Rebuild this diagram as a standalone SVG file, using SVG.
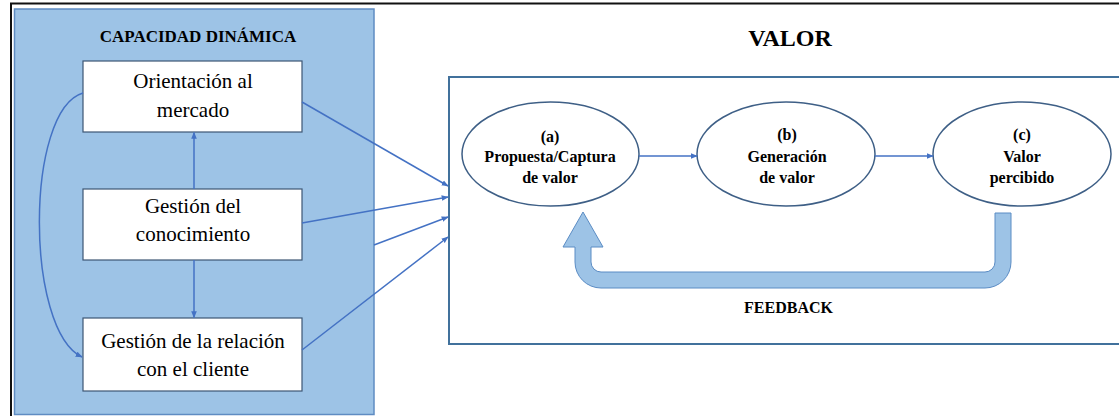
<svg xmlns="http://www.w3.org/2000/svg" width="1119" height="416" viewBox="0 0 1119 416" font-family="'Liberation Serif', 'DejaVu Serif', serif">
<defs>
<style>
.t{fill:#000;text-anchor:middle}
.box{fill:#fff;stroke:#3d5674;stroke-width:1.2}
.ell{fill:#fff;stroke:#3e5f86;stroke-width:1.5}
.ln{fill:none;stroke:#4472c4;stroke-width:1.5}
.bt{font-weight:bold;font-size:16px}
.bx{font-size:21px}
</style>
<marker id="ah" viewBox="0 0 10 10" refX="9" refY="5" markerWidth="7" markerHeight="7" orient="auto" markerUnits="userSpaceOnUse">
<path d="M0 1 L10 5 L0 9 Z" fill="#4472c4"/>
</marker>
</defs>
<rect width="1119" height="416" fill="#fff"/>
<path d="M11 416 L11 3.5 L1119 3.5" fill="none" stroke="#111" stroke-width="2"/>
<g id="panel-capacidad">
<rect x="14.5" y="9" width="359.5" height="405.5" fill="#9dc3e6" stroke="#5f8cc2" stroke-width="1.5"/>
<text class="t" x="198" y="42" font-size="17" font-weight="bold" fill="#111" font-family="Liberation Serif, serif">CAPACIDAD DINÁMICA</text>
</g>
<g id="panel-valor">
<path d="M1119 77 L449 77 L449 344 L1119 344" fill="none" stroke="#41719c" stroke-width="2"/>
<text class="t" x="790" y="46" font-size="24" font-weight="bold">VALOR</text>
</g>
<g id="node-orientacion">
<rect class="box" x="83" y="61" width="219" height="71"/>
<text class="t bx" x="193" y="88">Orientación al</text>
<text class="t bx" x="193" y="117">mercado</text>
</g>
<g id="node-gestion-conocimiento">
<rect class="box" x="83" y="189" width="219" height="71"/>
<text class="t bx" x="193" y="213">Gestión del</text>
<text class="t bx" x="193" y="241">conocimiento</text>
</g>
<g id="node-gestion-relacion">
<rect class="box" x="83" y="318" width="219" height="73"/>
<text class="t bx" x="193" y="348">Gestión de la relación</text>
<text class="t bx" x="193" y="376">con el cliente</text>
</g>
<g id="node-a">
<ellipse class="ell" cx="550.5" cy="154" rx="88.5" ry="52"/>
<text class="t bt" x="550" y="142">(a)</text>
<text class="t bt" x="550" y="162">Propuesta/Captura</text>
<text class="t bt" x="550" y="183">de valor</text>
</g>
<g id="node-b">
<ellipse class="ell" cx="786" cy="154" rx="89" ry="52"/>
<text class="t bt" x="787" y="140">(b)</text>
<text class="t bt" x="787" y="162">Generación</text>
<text class="t bt" x="787" y="183">de valor</text>
</g>
<g id="node-c">
<ellipse class="ell" cx="1022" cy="154" rx="89" ry="52"/>
<text class="t bt" x="1022" y="140">(c)</text>
<text class="t bt" x="1022" y="162">Valor</text>
<text class="t bt" x="1022" y="183">percibido</text>
</g>
<g id="feedback">
<path d="M995 213 L1011 213 L1011 262 A26 26 0 0 1 985 288 L601 288 A26 26 0 0 1 575 262 L575 247 L563 247 L583 212 L603 247 L591 247 L591 262 A10 10 0 0 0 601 272 L985 272 A10 10 0 0 0 995 262 Z" fill="#9dc3e6" stroke="#5b8cc4" stroke-width="1"/>
<text class="t bt" x="788.5" y="313">FEEDBACK</text>
</g>
<g id="connectors">
<line class="ln" x1="194" y1="189" x2="194" y2="132.5" marker-end="url(#ah)"/>
<line class="ln" x1="194" y1="260" x2="194" y2="317.5" marker-end="url(#ah)"/>
<path class="ln" d="M83 93 C25 110 25 330 82 357" marker-end="url(#ah)"/>
<line class="ln" x1="302" y1="102" x2="448" y2="186" marker-end="url(#ah)"/>
<line class="ln" x1="302" y1="223" x2="448" y2="197" marker-end="url(#ah)"/>
<line class="ln" x1="374" y1="245" x2="448" y2="217" marker-end="url(#ah)"/>
<line class="ln" x1="302" y1="350" x2="448" y2="237" marker-end="url(#ah)"/>
<line class="ln" x1="639" y1="156" x2="697" y2="156" marker-end="url(#ah)"/>
<line class="ln" x1="875" y1="156" x2="933" y2="156" marker-end="url(#ah)"/>
</g>
</svg>
